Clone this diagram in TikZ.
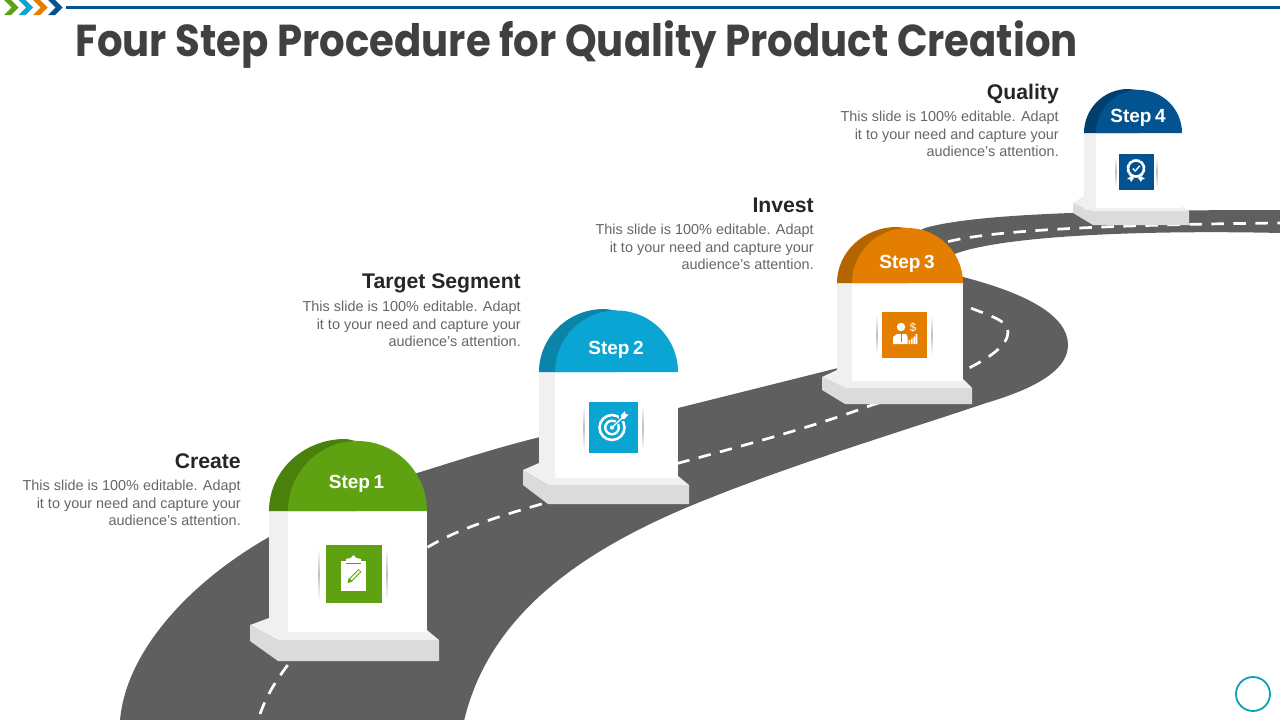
\documentclass[tikz,border=0pt]{standalone}
\usepackage{fontspec}
\setmainfont{Liberation Sans}
\newfontfamily\titlefont[FakeStretch=0.9]{Poppins}
\definecolor{road}{HTML}{5F5F5F}
\definecolor{gA}{HTML}{5FA211}\definecolor{gB}{HTML}{4A800C}
\definecolor{cA}{HTML}{0BA5D4}\definecolor{cB}{HTML}{0A84A8}
\definecolor{oA}{HTML}{E37E00}\definecolor{oB}{HTML}{B56500}
\definecolor{bA}{HTML}{02538F}\definecolor{bB}{HTML}{013F6E}
\definecolor{bodytext}{HTML}{666666}
\definecolor{headtext}{HTML}{262626}
\definecolor{faceA}{HTML}{F0F0F0}
\definecolor{faceB}{HTML}{DBDBDB}
\tikzset{
 x=1pt,y=-1pt,
 heading/.style={anchor=base east,font=\fontsize{21.2}{23}\selectfont\bfseries,text=headtext,inner sep=0pt},
 bodynote/.style={anchor=north east,align=right,font=\fontsize{14.45}{17.6}\selectfont,text=bodytext,inner sep=0pt},
 steplabel/.style={font=\fontsize{19}{21}\selectfont\bfseries,text=white,inner sep=0pt},
}
\begin{document}
\begin{tikzpicture}
\useasboundingbox (0,0) rectangle (1280,720);
% header
\foreach \xx/\cc in {4/gA,18.5/cA,33/oA,48/bA}{
  \fill[\cc] (\xx,0) -- ++(7,0) -- ++(7.5,7.5) -- ++(-7.5,7.5) -- ++(-7,0) -- ++(7.5,-7.5) -- cycle;
}
\draw[bA,line width=3.6pt] (66,7.5) -- (1280,7.5);
\node[anchor=base west,inner sep=0pt,text=black!75,font=\titlefont\fontsize{44.7}{48}\selectfont\bfseries] (title) at (75,56.5) {Four Step Procedure for Quality Product Creation};
% road
\fill[road] (120,721) .. controls (125,655) and (185,585) .. (269,537)
  .. controls (320,508) and (370,487) .. (427,470)
  .. controls (465,458) and (500,447) .. (540,437)
  -- (678,408) -- (838,368) -- (900,345) -- (905,300) -- (880,250) -- (925,228)
  .. controls (970,215) and (1080,210) .. (1281,210)
  -- (1281,233) .. controls (1150,230) and (1000,235) .. (952,255)
  -- (930,272) -- (963,277)
  .. controls (1025,293) and (1068,315) .. (1068,345)
  .. controls (1068,372) and (1030,390) .. (986,403)
  .. controls (900,432) and (800,462) .. (710,498)
  .. controls (590,545) and (490,610) .. (464,721) -- cycle;
\draw[white,line width=2.7pt,dash pattern=on 12.5pt off 9.5pt]
  (260,714) .. controls (268,692) and (278,678) .. (290,662)
  .. controls (330,600) and (380,570) .. (428,547)
  .. controls (460,528) and (500,516) .. (545,503)
  -- (679,463)
  .. controls (745,445) and (810,428) .. (872,405)
  .. controls (905,395) and (935,385) .. (963,371)
  .. controls (990,358) and (1008,345) .. (1008,332)
  .. controls (1008,320) and (990,316) .. (963,305)
  .. controls (930,290) and (915,258) .. (943,243)
  .. controls (980,232) and (1080,225) .. (1280,223);
% milestones
\foreach \L/\F/\R/\by/\bt/\ft/\pb/\cx/\cy/\cb/\fx/\fy/\fb/\rx/\cA/\cB/\ap in {
  269/288/427/511/439/441/632/250/625/641/278/640/661/439/gA/gB/345,
  539/555/678/372/309/310.5/478/523/470/485/548/485/504/689/cA/cB/604,
  837/852/963/283/227/228/381/822/377/390/845/388/404/972/oA/oB/897,
  1084/1096/1182/133/89/90/208/1073/203/213/1093/211/225/1189/bA/bB/1128}{
  \fill[faceB] (\cx,\cy) -- (\fx,\fy) -- (\rx,\fy) -- (\rx,\fb) -- (\fx,\fb) -- (\cx,\cb) -- cycle;
  \fill[faceA] (\cx,\cy) -- (\L,\cy-7) -- (\R,\pb-2) -- (\rx,\fy) -- (\fx,\fy) -- cycle;
  \fill[faceA] (\L,\by) rectangle (\F,\pb+2);
  \fill[white] (\F,\by) rectangle (\R,\pb);
  \pgfmathsetmacro{\brx}{\ap-\L}
  \pgfmathsetmacro{\bry}{\by-\bt}
  \pgfmathsetmacro{\frx}{(\R-\F)/2}
  \pgfmathsetmacro{\fry}{\by-\ft}
  \pgfmathsetmacro{\fc}{(\R+\F)/2}
  \fill[\cB] (\L,\by) arc[start angle=180,end angle=270,x radius=\brx,y radius=\bry]
     .. controls (\ap+5,\bt) and (\fc-5,\ft) .. (\fc,\ft) -- (\fc,\by) -- cycle;
  \fill[\cA] (\F,\by) arc[start angle=180,end angle=360,x radius=\frx,y radius=\fry] -- cycle;
}
% icon squares and side marks
\foreach \a/\b/\c/\d/\e/\f/\cc in {326/545/382/603/319/387/gA, 589/402/638/453/584/643/cA, 882/312/927/358/877/932/oA, 1119/154/1154/190/1116/1157/bA}{
  \fill[\cc] (\a,\b) rectangle (\c,\d);
  \shade[top color=white,bottom color=white,middle color=black!25] (\e-0.5,\b+3) rectangle (\e+0.5,\d-3);
  \shade[top color=white,bottom color=white,middle color=black!25] (\f-0.5,\b+3) rectangle (\f+0.5,\d-3);
}
% clipboard
\fill[white] (341,561) rectangle (366,591);
\fill[white] (346,564) -- (346,559) -- (350.5,558) -- (353.5,555) -- (356.5,558) -- (361,559) -- (361,564) -- cycle;
\draw[gA,line width=0.7pt] (346,563.5) -- (361,563.5);
\draw[gA,line width=4pt] (350.5,580) -- (360,570.5);
\draw[white,line width=1.9pt] (351,579.5) -- (359.5,571);
\fill[gA] (347.5,583) -- (348.6,578.2) -- (352.2,581.8) -- cycle;
% target
\draw[white,line width=2.5pt] (612,427.5) circle (12.5);
\draw[cA,line width=4pt] (618,422) -- (632,409);
\fill[cA] (619,415) rectangle (630,421);
\draw[white,line width=2.4pt] (612,427.5) circle (6.8);
\fill[white] (612,427.5) circle (2.2);
\draw[cA,line width=3pt] (613,426.5) -- (623,417);
\draw[white,line width=1.3pt] (612,427.5) -- (623,417);
\fill[white] (621,415) -- (625,411) -- (625.5,414) -- (628.5,414.5) -- (624.5,419) -- (621,419) -- cycle;
% person
\fill[white] (901,327) circle (4.2);
\fill[white] (893,344) -- (893,337) -- (897,334) -- (906,334) -- (907.5,337) -- (907.5,344) -- cycle;
\draw[oA,line width=0.9pt] (901,334) -- (901,342);
\fill[white] (908.5,340) rectangle (910.2,344) (911,338.5) rectangle (912.7,344) (913.3,336.5) rectangle (915,344) (915.6,334) rectangle (917.3,344);
\node[inner sep=0pt,text=white,font=\fontsize{11.5}{12}\selectfont] (dollar) at (913,328) {\$};
% rosette
\fill[white] (1136,168.5) circle (9.5);
\fill[bA] (1136,168.5) circle (6.6);
\foreach \aa in {0,30,...,330}{\fill[bA] (1136,168.5) ++(\aa:9.7) circle (0.9);}
\draw[white,line width=1.4pt] (1132.8,168.5) -- (1135.2,171) -- (1139.8,165.8);
\fill[white] (1131,176) -- (1127,179) -- (1130,179.5) -- (1131,182) -- (1134,178) -- cycle;
\fill[white] (1141,176) -- (1145,179) -- (1142,179.5) -- (1141,182) -- (1138,178) -- cycle;
% labels
\node[steplabel] (s1) at (356.5,484) {Step\hspace{3.5pt}1};
\node[steplabel] (s2) at (616,349.5) {Step\hspace{3.5pt}2};
\node[steplabel] (s3) at (907,264) {Step\hspace{3.5pt}3};
\node[steplabel] (s4) at (1138,117.5) {Step\hspace{3.5pt}4};
\node[heading] (h1) at (241,468) {Create};
\node[heading] (h2) at (521,288) {Target Segment};
\node[heading] (h3) at (814,212) {Invest};
\node[heading] (h4) at (1059,99) {Quality};
\foreach \n/\xx/\yy in {t1/241/480,t2/521/301,t3/814/224,t4/1059/111}{
  \node[bodynote] (\n) at (\xx,\yy) {This slide is 100\% editable. Adapt\\it to your need and capture your\\audience’s attention.};
}
\draw[draw={rgb,255:red,10;green,160;blue,181},line width=1.8pt] (1253,694) circle (17);
\end{tikzpicture}
\end{document}
